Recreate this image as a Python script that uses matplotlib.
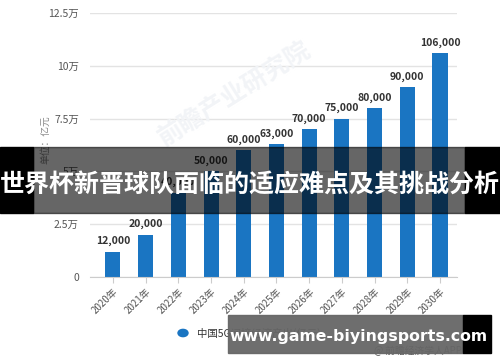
import matplotlib.pyplot as plt
from matplotlib.patches import Rectangle

plt.rcParams['font.family'] = ['Noto Sans CJK SC', 'DejaVu Sans']

# Data
years = ["2020年", "2021年", "2022年", "2023年", "2024年", "2025年",
         "2026年", "2027年", "2028年", "2029年", "2030年"]
values = [12000, 20000, 40000, 50000, 60000, 63000, 70000, 75000, 80000, 90000, 106000]
yticks = [0, 25000, 50000, 75000, 100000, 125000]
ytick_labels = ["0", "2.5万", "5万", "7.5万", "10万", "12.5万"]
series_name = "中国5G间接经济产出(亿元)"
banner_text = "世界杯新晋球队面临的适应难点及其挑战分析"
site_text = "www.game-biyingsports.com"

W, H = 500, 362
fig = plt.figure(figsize=(W / 100, H / 100), dpi=100)
fig.patch.set_facecolor("white")

ax = fig.add_axes([90 / W, 1 - 277 / H, 367 / W, 264 / H])
x = list(range(len(years)))
ax.bar(x, values, width=0.46, color="#1a75c2", zorder=3)
for xi, v in zip(x, values):
    ax.text(xi, v + 2500, f"{v:,}", ha="center", va="bottom",
            fontsize=7.5, fontweight="bold", color="#333333", zorder=4)

ax.set_xlim(-0.7, 10.52)
ax.set_ylim(0, 125000)
ax.set_yticks(yticks)
ax.set_yticklabels(ytick_labels, fontsize=7.5, color="#555555")
ax.set_xticks(x)
ax.set_xticklabels(years, rotation=45, ha="right", rotation_mode="anchor",
                   fontsize=7, color="#555555")
ax.tick_params(axis="y", length=0, pad=8)
ax.tick_params(axis="x", length=4, color="#cccccc", pad=3)
ax.grid(axis="y", color="#e3e3e3", linewidth=1, zorder=0)
for s in ["top", "right", "left"]:
    ax.spines[s].set_visible(False)
ax.spines["bottom"].set_color("#cccccc")
ax.spines["bottom"].set_zorder(5)

# faint background watermark
fig.text(0.47, 0.74, "前瞻产业研究院", fontsize=18, color="#f2f4f7", rotation=32,
         ha="center", va="center", fontweight="bold", zorder=0)

# y-axis unit label
fig.text(45 / W, 1 - 140 / H, "单位：亿元", rotation=90, fontsize=7,
         color="#888888", ha="center", va="center")

# legend
fig.patches.append(plt.Circle((183 / W, 1 - 333 / H), 5 / W, color="#1a75c2",
                              transform=fig.transFigure, figure=fig))
fig.text(197 / W, 1 - 333 / H, series_name, fontsize=7.5, color="#333333",
         ha="left", va="center")

# footer
fig.text(418 / W, 1 - 351 / H, "@ 前瞻经济学人APP", fontsize=7, color="#555555",
         ha="center", va="center")

# banner overlay
fig.patches.append(Rectangle((0, 1 - 213 / H), 33 / W, 66 / H, color="black",
                             transform=fig.transFigure, figure=fig, zorder=10))
fig.patches.append(Rectangle((465 / W, 1 - 213 / H), 35 / W, 66 / H, color="black",
                             transform=fig.transFigure, figure=fig, zorder=10))
fig.patches.append(Rectangle((33 / W, 1 - 213 / H), 432 / W, 66 / H, color="black",
                             alpha=0.6, transform=fig.transFigure, figure=fig, zorder=10))
fig.text(0.5, 1 - 185 / H, banner_text, fontsize=18, fontweight="bold",
         color="white", ha="center", va="center", zorder=11)

# site watermark
fig.patches.append(Rectangle((228 / W, 1 - 353 / H), 235 / W, 38 / H, color="#666666",
                             alpha=0.95, transform=fig.transFigure, figure=fig, zorder=10))
fig.patches.append(Rectangle((463 / W, 1 - 353 / H), 28 / W, 38 / H, color="black",
                             transform=fig.transFigure, figure=fig, zorder=10))
fig.text(358 / W, 1 - 336 / H, site_text, fontsize=11.3, fontweight="bold",
         color="white", ha="center", va="center", zorder=11,
         family=["DejaVu Sans"])

fig.savefig("out.png", dpi=100)
